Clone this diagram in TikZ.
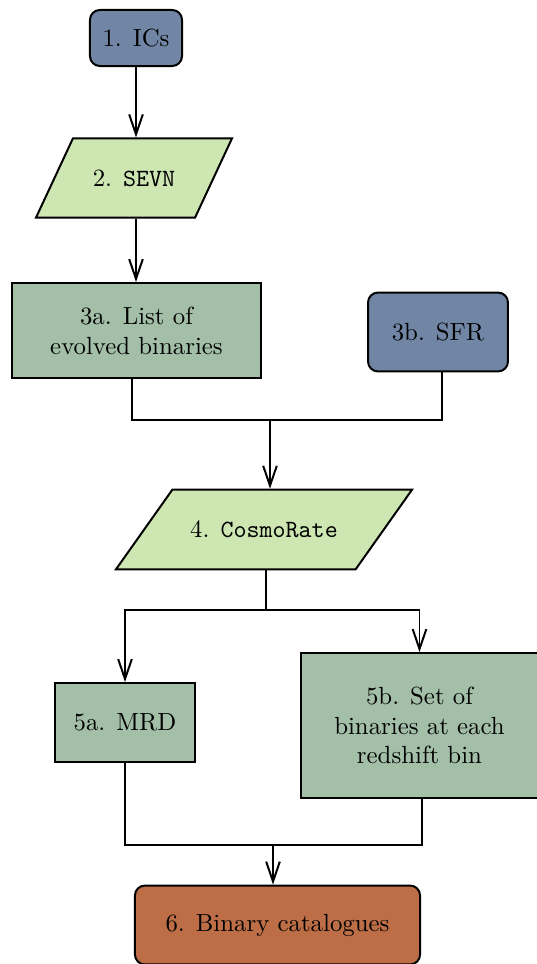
\documentclass[tikz,border=0pt]{standalone}
\usetikzlibrary{shapes.geometric, arrows.meta}

\definecolor{slate}{RGB}{112,134,164}
\definecolor{leaf}{RGB}{205,230,178}
\definecolor{sage}{RGB}{163,191,168}
\definecolor{rust}{RGB}{189,110,71}

\begin{document}
\begin{tikzpicture}[x=0.403pt, y=-0.403pt, thick, align=center,
    >={Straight Barb[length=8pt,width=5.5pt]},
    inbox/.style={draw, fill=slate, rounded corners=4pt},
    code/.style={draw, fill=leaf, trapezium, trapezium left angle=#1,
      trapezium right angle=180-#1, trapezium stretches body=true, inner ysep=12.6pt},
    databox/.style={draw, fill=sage}]
  \useasboundingbox (0,0) rectangle (537,964);

  \node[inbox, minimum width=37.1pt, minimum height=22.6pt] (ics) at (136,38) {1. ICs};
  \node[code=65, minimum width=79pt] (sevn) at (134,178) {2. \texttt{SEVN}};
  \node[databox, minimum width=100.3pt, minimum height=38.3pt] (lst) at (136.5,330.5)
    {3a. List of\\evolved binaries};
  \node[inbox, minimum width=56.4pt, minimum height=31.8pt] (sfr) at (438,332) {3b. SFR};
  \node[code=54.7, minimum width=119.3pt] (rate) at (264,529.5)
    {4. \texttt{CosmoRate}};
  \node[databox, minimum width=56.4pt, minimum height=31.8pt] (mrd) at (125,722.5) {5a. MRD};
  \node[databox, minimum width=95.5pt, minimum height=58.4pt] (bins) at (419.5,725.5)
    {5b. Set of\\binaries at each\\redshift bin};
  \node[inbox, fill=rust, minimum width=114.9pt, minimum height=31.8pt] (cat) at (277.5,925)
    {6. Binary catalogues};

  % junctions
  \coordinate (j1) at (270,420);
  \coordinate (j2) at (266,610);
  \coordinate (j3) at (273,845);

  \draw[->] (ics) -- (ics |- sevn.north);
  \draw[->] (ics.south |- sevn.south) -- (ics.south |- lst.north);
  \draw ([xshift=-2pt]lst.south) |- ([xshift=1.6pt]sfr.south |- j1) -- ([xshift=1.6pt]sfr.south);
  \draw[->] (j1) -- (j1 |- rate.north);
  \draw (j2 |- rate.south) -- (j2);
  \draw[->] (j2) -| (mrd.north);
  \draw[->] (j2) -| (bins.north);
  \draw (mrd.south) |- ([xshift=1pt]bins.south |- j3) -- ([xshift=1pt]bins.south);
  \draw[->] (j3) -- (j3 |- cat.north);
\end{tikzpicture}
\end{document}
